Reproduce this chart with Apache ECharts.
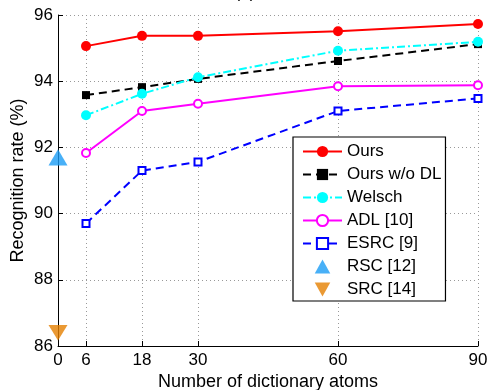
<!DOCTYPE html>
<html>
<head>
<meta charset="utf-8">
<script src="https://cdn.jsdelivr.net/npm/echarts@6/dist/echarts.min.js"></script>
<style>html,body{margin:0;padding:0;background:#fff}#c{width:490px;height:390px}</style>
</head>
<body>
<div id="c"></div>
<script>
const xValues = [6, 18, 30, 60, 90];
const xTicks = [0, 6, 18, 30, 60, 90];
const ours = [95.06, 95.37, 95.37, 95.51, 95.73];
const oursNoDL = [93.58, 93.82, 94.07, 94.61, 95.12];
const welsch = [92.97, 93.62, 94.12, 94.92, 95.19];
const adl = [91.83, 93.10, 93.32, 93.85, 93.88];
const esrc = [89.70, 91.30, 91.56, 93.10, 93.48];
const rscX = 0, rscY = 91.7;
const srcX = 0, srcY = 86.4;

const pair = arr => xValues.map((x, i) => [x, arr[i]]);
const FONT = 'Liberation Sans';
const DOWN_TRI = 'path://M0,0 L20,0 L10,18 Z';
const UP_TRI = 'path://M10,0 L20,18 L0,18 Z';

const chart = echarts.init(document.getElementById('c'), null, {renderer: 'canvas'});
chart.setOption({
  animation: false,
  backgroundColor: '#fff',
  title: {text: '(a)', left: 'center', top: -20, textStyle: {fontFamily: FONT, fontSize: 17, fontWeight: 'normal', color: '#000'}},
  grid: {left: 58, top: 15, width: 420, height: 331, outerBoundsMode: 'none', containLabel: false},
  xAxis: {
    type: 'value', min: 0, max: 90,
    name: 'Number of dictionary atoms', nameLocation: 'middle', nameGap: 27, nameMoveOverlap: false,
    nameTextStyle: {fontFamily: FONT, fontSize: 18, color: '#000'},
    axisLine: {show: true, lineStyle: {color: '#000', width: 1}},
    axisTick: {show: true, inside: true, length: 5, customValues: xTicks, lineStyle: {color: '#000'}},
    axisLabel: {customValues: xTicks, fontFamily: FONT, fontSize: 17, color: '#000', margin: 6},
    splitLine: {show: true, lineStyle: {color: '#999', type: [1, 3], width: 1}}
  },
  yAxis: {
    type: 'value', min: 86, max: 96, interval: 2,
    name: 'Recognition rate (%)', nameLocation: 'middle', nameGap: 31, nameMoveOverlap: false,
    nameTextStyle: {fontFamily: FONT, fontSize: 18, color: '#000'},
    axisLine: {show: true, lineStyle: {color: '#000', width: 1}},
    axisTick: {show: true, inside: true, length: 5, lineStyle: {color: '#000'}},
    axisLabel: {fontFamily: FONT, fontSize: 17, color: '#000', margin: 5},
    splitLine: {show: true, lineStyle: {color: '#999', type: [1, 3], width: 1}}
  },
  legend: {
    orient: 'vertical', left: 293, top: 137,
    backgroundColor: '#fff', borderColor: '#000', borderWidth: 1.2,
    padding: [6, 4, 3, 9], itemGap: 6, itemWidth: 39, itemHeight: 14,
    textStyle: {fontFamily: FONT, fontSize: 17, color: '#000'},
    data: ['Ours', 'Ours w/o DL', 'Welsch', 'ADL [10]', 'ESRC [9]',
      {name: 'RSC [12]', icon: UP_TRI}, {name: 'SRC [14]', icon: DOWN_TRI}]
  },
  series: [
    {name: 'Ours', type: 'line', data: pair(ours), symbol: 'circle', symbolSize: 10,
     itemStyle: {color: '#ff0000'}, lineStyle: {color: '#ff0000', width: 2}},
    {name: 'Ours w/o DL', type: 'line', data: pair(oursNoDL), symbol: 'rect', symbolSize: 8,
     itemStyle: {color: '#000'}, lineStyle: {color: '#000', width: 2, type: [8, 5]}},
    {name: 'Welsch', type: 'line', data: pair(welsch), symbol: 'circle', symbolSize: 10,
     itemStyle: {color: '#00ffff'}, lineStyle: {color: '#00ffff', width: 2, type: [8, 3, 2, 3]}},
    {name: 'ADL [10]', type: 'line', data: pair(adl), symbol: 'emptyCircle', symbolSize: 8,
     itemStyle: {color: '#ff00ff', borderWidth: 2}, lineStyle: {color: '#ff00ff', width: 2}},
    {name: 'ESRC [9]', type: 'line', data: pair(esrc), symbol: 'emptyRect', symbolSize: 7,
     itemStyle: {color: '#0000ff', borderWidth: 2}, lineStyle: {color: '#0000ff', width: 2, type: [8, 5]}},
    {name: 'RSC [12]', type: 'scatter', data: [[rscX, rscY]], symbol: UP_TRI, symbolSize: [19, 18],
     symbolKeepAspect: true, itemStyle: {color: '#1a9cf5'}, clip: false},
    {name: 'SRC [14]', type: 'scatter', data: [[srcX, srcY]], symbol: DOWN_TRI, symbolSize: [19, 17],
     symbolKeepAspect: true, itemStyle: {color: '#e57f00'}, clip: false}
  ]
});
</script>
</body>
</html>
